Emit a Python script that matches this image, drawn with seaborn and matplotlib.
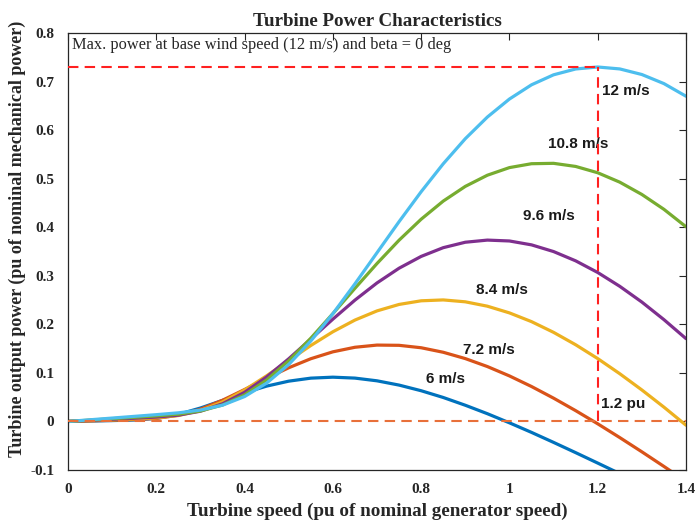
import numpy as np
import pandas as pd
import matplotlib
matplotlib.use("Agg")
import matplotlib.pyplot as plt
import seaborn as sns

# ---------------- data ----------------
turbine_speed = [0.00, 0.05, 0.10, 0.15, 0.20, 0.25, 0.30, 0.35, 0.40, 0.45,
                 0.50, 0.55, 0.60, 0.65, 0.70, 0.75, 0.80, 0.85, 0.90, 0.95,
                 1.00, 1.05, 1.10, 1.15, 1.20, 1.25, 1.30, 1.35, 1.40]

power_6 = [0, 0.0009, 0.0018, 0.0030, 0.0064, 0.0147, 0.0277, 0.0434, 0.0591, 0.0728,
           0.0830, 0.0892, 0.0912, 0.0893, 0.0837, 0.0749, 0.0633, 0.0494, 0.0334, 0.0160,
           -0.0028, -0.0225, -0.0431, -0.0642, -0.0857, -0.1074]
power_7_2 = [0, 0.0013, 0.0025, 0.0039, 0.0064, 0.0128, 0.0253, 0.0437, 0.0658, 0.0889,
             0.1106, 0.1292, 0.1434, 0.1528, 0.1573, 0.1568, 0.1518, 0.1425, 0.1295, 0.1131,
             0.0938, 0.0720, 0.0480, 0.0223, -0.0048, -0.0332, -0.0625, -0.0926, -0.1233]
power_8_4 = [0, 0.0017, 0.0034, 0.0052, 0.0074, 0.0122, 0.0226, 0.0402, 0.0648, 0.0941,
             0.1255, 0.1564, 0.1847, 0.2088, 0.2277, 0.2410, 0.2485, 0.2503, 0.2464, 0.2374,
             0.2236, 0.2056, 0.1835, 0.1580, 0.1295, 0.0983, 0.0649, 0.0295, -0.0077]
power_9_6 = [0, 0.0022, 0.0045, 0.0067, 0.0091, 0.0130, 0.0211, 0.0364, 0.0600, 0.0917,
             0.1291, 0.1697, 0.2107, 0.2499, 0.2853, 0.3156, 0.3399, 0.3579, 0.3691, 0.3735,
             0.3717, 0.3637, 0.3499, 0.3308, 0.3068, 0.2783, 0.2459, 0.2097, 0.1706]
power_10_8 = [0, 0.0028, 0.0057, 0.0085, 0.0114, 0.0150, 0.0215, 0.0339, 0.0549, 0.0855,
              0.1251, 0.1714, 0.2221, 0.2742, 0.3253, 0.3733, 0.4165, 0.4538, 0.4841, 0.5071,
              0.5228, 0.5308, 0.5316, 0.5252, 0.5122, 0.4928, 0.4675, 0.4369, 0.4010]
power_12 = [0, 0.0035, 0.0070, 0.0105, 0.0140, 0.0178, 0.0234, 0.0335, 0.0513, 0.0790,
            0.1173, 0.1657, 0.2219, 0.2834, 0.3475, 0.4115, 0.4731, 0.5306, 0.5823, 0.6269,
            0.6640, 0.6933, 0.7139, 0.7259, 0.7300, 0.7260, 0.7145, 0.6958, 0.6698]

wind_labels = ["6 m/s", "7.2 m/s", "8.4 m/s", "9.6 m/s", "10.8 m/s", "12 m/s"]
wind_series = [power_6, power_7_2, power_8_4, power_9_6, power_10_8, power_12]
wind_colors = ["#0072BD", "#D95319", "#EDB120", "#7E2F8E", "#77AC30", "#4DBEEE"]

# label anchor positions (data coords)
label_x = [0.81, 0.895, 0.924, 1.031, 1.087, 1.21]
label_y = [0.087, 0.148, 0.270, 0.423, 0.571, 0.680]

max_power = 0.73
base_speed = 1.2

x_ticks = [0, 0.2, 0.4, 0.6, 0.8, 1.0, 1.2, 1.4]
x_tick_labels = ["0", "0.2", "0.4", "0.6", "0.8", "1", "1.2", "1.4"]
y_ticks = [-0.1, 0, 0.1, 0.2, 0.3, 0.4, 0.5, 0.6, 0.7, 0.8]
y_tick_labels = ["-0.1", "0", "0.1", "0.2", "0.3", "0.4", "0.5", "0.6", "0.7", "0.8"]

rows = []
for lab, vals in zip(wind_labels, wind_series):
    for xv, yv in zip(turbine_speed, vals):
        rows.append({"speed": xv, "power": yv, "wind": lab})
df = pd.DataFrame(rows)

# ---------------- plotting ----------------
sns.set_style("white")
plt.rcParams["font.family"] = ["Liberation Serif", "DejaVu Serif"]

fig = plt.figure(figsize=(6.97, 5.23), dpi=100)
ax = fig.add_axes([0.0976, 0.1013, 0.8866, 0.8356])

sns.lineplot(data=df, x="speed", y="power", hue="wind", hue_order=wind_labels,
             palette=dict(zip(wind_labels, wind_colors)), linewidth=2.3,
             estimator=None, sort=False, legend=False, ax=ax)

# reference lines
ax.axhline(0, color="#E8703A", linestyle=(0, (5, 3)), linewidth=1.5, zorder=5)
ax.hlines(max_power, 0, base_speed, color="#FF2020", linestyle=(0, (5, 3)), linewidth=1.5, zorder=5)
ax.vlines(base_speed, 0, max_power, color="#FF2020", linestyle=(0, (5, 3)), linewidth=1.5, zorder=5)

for lab, lx, ly in zip(wind_labels, label_x, label_y):
    ax.text(lx, ly, lab, family=["Liberation Sans", "DejaVu Sans"], fontweight="bold",
            fontsize=11, va="center", ha="left", color="#1a1a1a")
ax.text(1.207, 0.035, "1.2 pu", family=["Liberation Sans", "DejaVu Sans"], fontweight="bold",
        fontsize=11, va="center", ha="left", color="#1a1a1a")

ax.text(0.008, 0.776, "Max. power at base wind speed (12 m/s) and beta = 0 deg",
        fontsize=11.8, va="center", ha="left", color="#262626")

ax.set_xlim(0, 1.4)
ax.set_ylim(-0.1, 0.8)
ax.set_xticks(x_ticks)
ax.set_xticklabels(x_tick_labels, fontweight="bold", fontsize=11)
ax.set_yticks(y_ticks)
ax.set_yticklabels(y_tick_labels, fontweight="bold", fontsize=11)
ax.tick_params(direction="in", top=True, right=True, length=5, width=0.8,
               colors="#262626", labelcolor="#262626")
ax.tick_params(axis="y", pad=10)
ax.tick_params(axis="x", pad=9)
for s in ax.spines.values():
    s.set_color("#262626")
    s.set_linewidth(0.9)

ax.set_title("Turbine Power Characteristics", fontweight="bold", fontsize=13.7, pad=5)
ax.set_xlabel("Turbine speed (pu of nominal generator speed)", fontweight="bold", fontsize=13.8,
              labelpad=5)
ax.set_ylabel("Turbine output power (pu of nominal mechanical power)", fontweight="bold",
              fontsize=13)
ax.yaxis.set_label_coords(-0.068, 0.53)

fig.savefig("out.png", dpi=100)
